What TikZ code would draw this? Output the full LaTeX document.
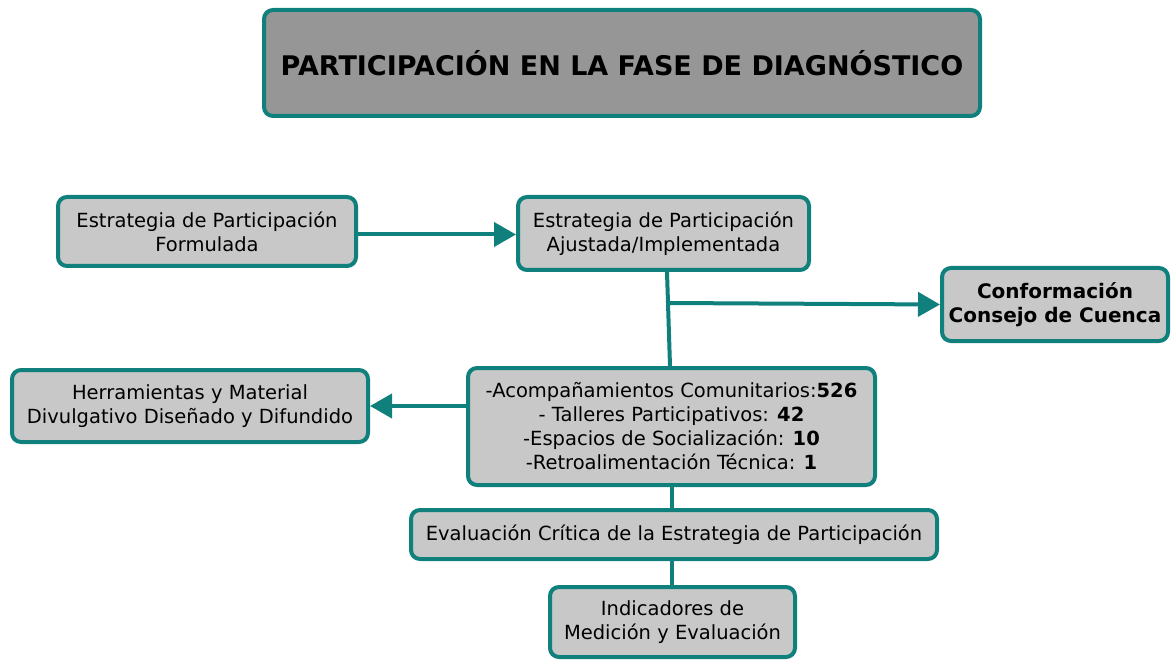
\documentclass[tikz,border=0pt]{standalone}
\usepackage{fontspec}
\setmainfont{DejaVu Sans}
\usetikzlibrary{arrows.meta,calc}
\definecolor{teal1}{RGB}{16,128,124}
\definecolor{boxgray}{RGB}{200,200,200}
\definecolor{titlegray}{RGB}{150,150,150}
\begin{document}
\begin{tikzpicture}[x=1pt,y=-1pt,
  box/.style={draw=teal1, line width=4pt, fill=boxgray, rounded corners=9pt,
    align=center, inner sep=0pt, font=\fontsize{19.5}{24}\selectfont},
  conn/.style={draw=teal1, line width=4pt},
  arr/.style={conn, -{Triangle[length=22pt,width=24pt]}}]
\useasboundingbox (0,0) rectangle (1172,660);
\node[box, fill=titlegray, minimum width=716pt, minimum height=106pt,
  font=\fontsize{27}{32}\selectfont\bfseries] (T) at (622,63)
  {PARTICIPACIÓN EN LA FASE DE DIAGNÓSTICO};
\node[box, minimum width=298pt, minimum height=69pt] (A) at (207,231.5)
  {Estrategia de Participación\\Formulada};
\node[box, minimum width=291pt, minimum height=73pt] (B) at (663.5,233.5)
  {Estrategia de Participación\\Ajustada/Implementada};
\node[box, minimum width=226pt, minimum height=73pt,
  font=\fontsize{20}{24}\selectfont\bfseries] (C) at (1055,304.5)
  {Conformación\\Consejo de Cuenca};
\node[box, minimum width=356pt, minimum height=72pt] (D) at (190,406)
  {Herramientas y Material\\Divulgativo Diseñado y Difundido};
\node[box, minimum width=407pt, minimum height=117pt] (E) at (671.5,426.5)
  {-Acompañamientos Comunitarios:\textbf{526}\\
   - Talleres Participativos: \textbf{42}\\
   -Espacios de Socialización: \textbf{10}\\
   -Retroalimentación Técnica: \textbf{1}};
\node[box, minimum width=526pt, minimum height=49pt] (F) at (674,534.5)
  {Evaluación Crítica de la Estrategia de Participación};
\node[box, minimum width=245pt, minimum height=70pt] (G) at (672.5,622)
  {Indicadores de\\Medición y Evaluación};
\coordinate (a1) at ($(A.east)+(0,3)$);
\coordinate (b1) at ($(B.south)+(3.5,0)$);
\coordinate (e1) at ($(E.north)+(-1.5,0)$);
\coordinate (j) at (668,303);
\draw[arr] (a1) -- (a1 -| B.west);
\draw[conn] (b1) -- (e1);
\draw[arr] (j) -- (C.west);
\draw[arr] (E.west |- D.east) -- (D.east);
\draw[conn] (E.south) -- (E.south |- F.north);
\draw[conn] (E.south |- F.south) -- (E.south |- G.north);
\end{tikzpicture}
\end{document}
